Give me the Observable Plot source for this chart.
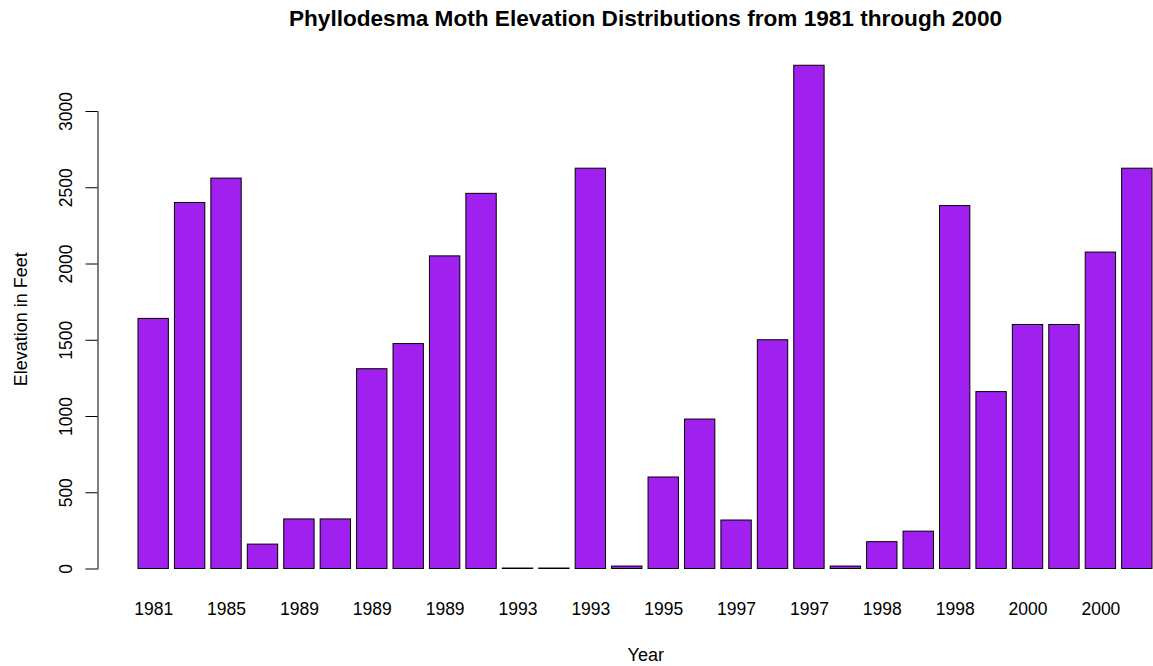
<!DOCTYPE html>
<html>
<head>
<meta charset="utf-8">
<script src="https://cdn.jsdelivr.net/npm/d3@7"></script>
<script src="https://cdn.jsdelivr.net/npm/@observablehq/plot@0.6"></script>
<style>
  html, body { margin: 0; padding: 0; background: #ffffff; }
  #chart svg { display: block; }
</style>
</head>
<body>
<div id="chart"></div>
<script>
// Bar labels (R hides every other label because they would overlap; hidden ones are estimates)
const years = ["1981","1983","1985","1987","1989","1989","1989","1989","1989","1991",
               "1993","1993","1993","1994","1995","1996","1997","1997","1997","1998",
               "1998","1998","1998","1999","2000","2000","2000","2000"];
// Elevation in feet, one per bar
const elevations = [1640, 2400, 2560, 160, 325, 325, 1310, 1475, 2050, 2460,
                    3, 3, 2625, 16, 600, 980, 318, 1500, 3300, 16,
                    176, 245, 2380, 1160, 1600, 1600, 2075, 2625];
const yTicks = [0, 500, 1000, 1500, 2000, 2500, 3000];

const titleText = "Phyllodesma Moth Elevation Distributions from 1981 through 2000";
const xLabel = "Year";
const yLabel = "Elevation in Feet";

const data = elevations.map((v, i) => ({i, year: years[i], value: v}));

const W = 1153, H = 666;
const font = "'Liberation Sans', Arial, Helvetica, sans-serif";

const chart = Plot.plot({
  width: W,
  height: H,
  marginLeft: 97.5,
  marginRight: 0,
  marginTop: 111,
  marginBottom: 97.5,
  style: {fontFamily: font, background: "#ffffff", color: "black"},
  x: {type: "band", domain: d3.range(years.length), range: [138, 1152],
      paddingInner: 1/6, paddingOuter: 0, round: false},
  y: {domain: [0, 3000]},
  marks: [
    Plot.barY(data, {x: "i", y: "value", fill: "#A020F0", stroke: "black", strokeWidth: 1}),
    Plot.frame({anchor: "left", stroke: "black"}),
    Plot.axisY({ticks: yTicks, tickSize: 12, tickFormat: () => "", label: null, stroke: "black", strokeOpacity: 1}),
    Plot.text(yTicks, {y: d => d, text: d => String(d), frameAnchor: "left", dx: -25.8,
      rotate: -90, textAnchor: "middle", lineAnchor: "bottom", fontSize: 17.5, fill: "black"}),
    Plot.axisX({tickSize: 0, tickPadding: 33.5, label: null, fontSize: 17.5,
      tickFormat: i => (i % 2 === 0 ? years[i] : ""), fill: "black"}),
    Plot.text([titleText], {frameAnchor: "top", dx: 19.75, dy: -85.5, lineAnchor: "bottom",
      fontSize: 22.6, fontWeight: "bold", fill: "black"}),
    Plot.text([xLabel], {frameAnchor: "bottom", dx: 20, dy: 91.5, lineAnchor: "bottom",
      fontSize: 18, fill: "black"}),
    Plot.text([yLabel], {frameAnchor: "left", dx: -71.5, dy: -21, rotate: -90,
      textAnchor: "middle", lineAnchor: "bottom", fontSize: 18, fill: "black"})
  ]
});

document.getElementById("chart").appendChild(chart);
</script>
</body>
</html>
